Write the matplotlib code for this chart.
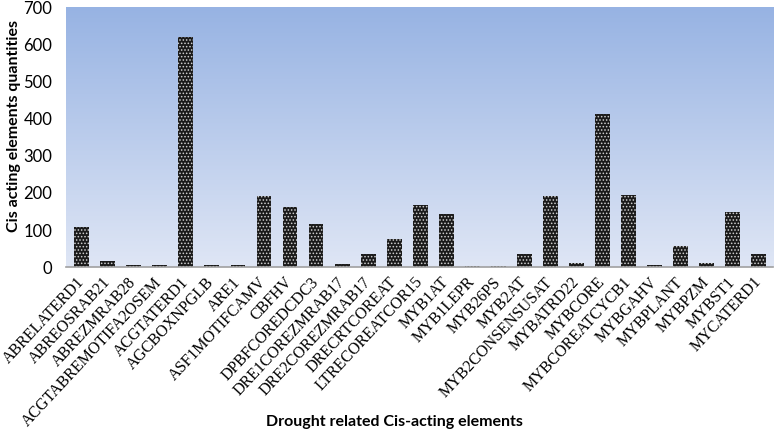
import numpy as np
import matplotlib.pyplot as plt
import matplotlib.colors as mcolors

elements = ['ABRELATERD1', 'ABREOSRAB21', 'ABREZMRAB28', 'ACGTABREMOTIFA2OSEM',
            'ACGTATERD1', 'AGCBOXNPGLB', 'ARE1', 'ASF1MOTIFCAMV', 'CBFHV',
            'DPBFCOREDCDC3', 'DRE1COREZMRAB17', 'DRE2COREZMRAB17', 'DRECRTCOREAT',
            'LTRECOREATCOR15', 'MYB1AT', 'MYB1LEPR', 'MYB26PS', 'MYB2AT',
            'MYB2CONSENSUSAT', 'MYBATRD22', 'MYBCORE', 'MYBCOREATCYCB1', 'MYBGAHV',
            'MYBPLANT', 'MYBPZM', 'MYBST1', 'MYCATERD1']
quantities = [108, 17, 7, 5, 619, 7, 5, 192, 162, 117, 8, 35, 75,
              167, 143, 2, 2, 35, 191, 10, 414, 194, 7, 58, 10, 148, 35]

fig = plt.figure(figsize=(7.77, 4.33), dpi=100)
pos = [0.085, 0.383, 0.91, 0.6]

# gradient background of the plot area, on its own axes behind
bg = fig.add_axes(pos, zorder=0)
cmap = mcolors.LinearSegmentedColormap.from_list('bg', ['#dfe6f5', '#97b3e3'])
grad = np.linspace(0, 1, 256).reshape(-1, 1)
bg.imshow(grad, cmap=cmap, aspect='auto', origin='lower', extent=[0, 1, 0, 1])
bg.set_axis_off()

ax = fig.add_axes(pos, zorder=1)
ax.patch.set_visible(False)

x = np.arange(len(elements))
plt.rcParams['hatch.linewidth'] = 0.7
ax.bar(x, quantities, width=0.57, color='#1a1a1a', edgecolor='#d0d0d0',
       linewidth=0, hatch='.....', zorder=2)

ax.set_xlim(-0.6, len(elements) - 0.45)
ax.set_ylim(0, 700)
ax.set_yticks(range(0, 701, 100))
ax.tick_params(axis='y', length=0, labelsize=12, pad=10)
ax.tick_params(axis='x', length=0, pad=9)
for lab in ax.get_yticklabels():
    lab.set_fontfamily('Lato')

ax.set_xticks(x)
ax.set_xticklabels(elements, rotation=47, ha='right', va='center',
                   rotation_mode='anchor', fontfamily='Liberation Serif',
                   fontsize=11.5)

for s in ['top', 'left', 'right']:
    ax.spines[s].set_visible(False)
ax.spines['bottom'].set_color('#a0a0a0')
ax.spines['bottom'].set_linewidth(1.2)
ax.spines['bottom'].set_zorder(3)

fig.text(0.018, 0.71, 'Cis acting elements quantities', rotation=90, ha='center',
         va='center', fontsize=11.5, fontweight='bold', fontfamily='Lato')
fig.text(0.508, 0.016, 'Drought related Cis-acting elements', ha='center',
         fontsize=11.5, fontweight='bold', fontfamily='Lato')

fig.savefig('out.png', dpi=100)
